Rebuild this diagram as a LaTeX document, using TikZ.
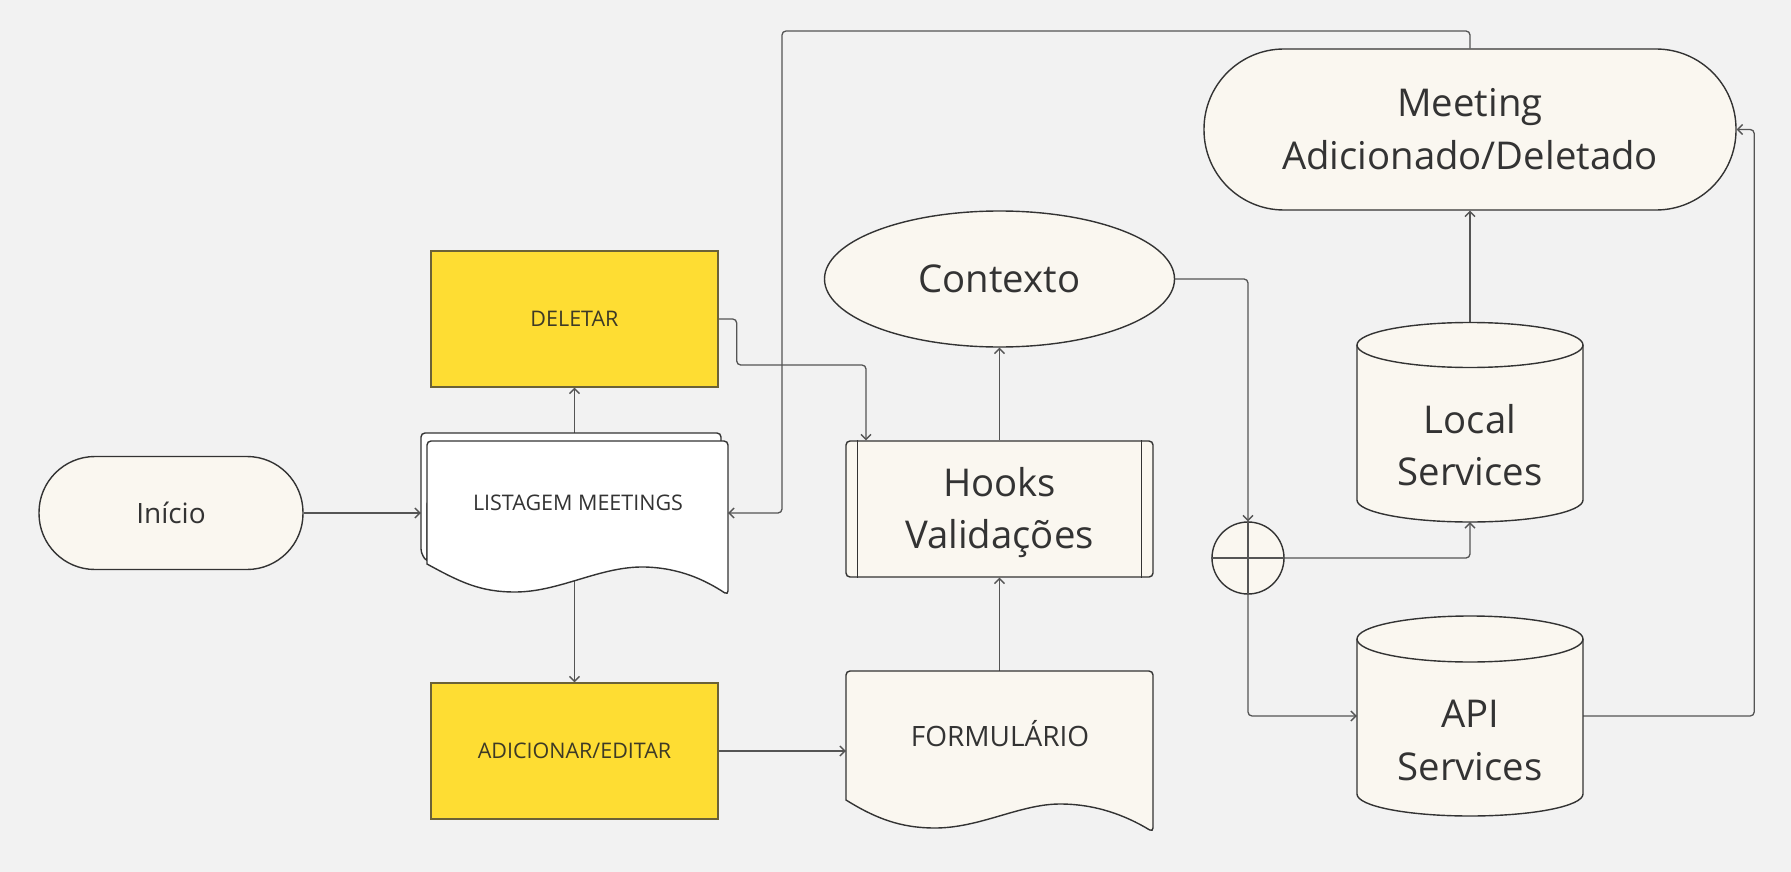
\documentclass[tikz,border=0pt]{standalone}
\usepackage{fontspec}
\setmainfont{Open Sans}
\usetikzlibrary{arrows.meta,shapes.geometric,backgrounds}
\definecolor{bg}{HTML}{F2F2F2}
\definecolor{cream}{HTML}{FAF7F0}
\definecolor{yel}{HTML}{FEDD33}
\definecolor{yelb}{HTML}{6B6237}
\definecolor{ink}{HTML}{333333}
\definecolor{ytext}{HTML}{3D3A26}
\definecolor{edge}{HTML}{555555}
\begin{document}
\begin{tikzpicture}[x=1pt,y=-1pt,
  shp/.style={draw=ink, line width=1.4pt, fill=cream, text=ink, align=center, inner sep=0pt},
  outl/.style={draw=ink, line width=1.4pt},
  big/.style={font=\fontsize{38.3}{52.5}\selectfont, text height=27.3pt, text depth=0pt},
  bigtwo/.style={font=\fontsize{38.3}{52.5}\selectfont, text height=79.8pt, text depth=0pt},
  med/.style={font=\fontsize{28}{36}\selectfont, text height=20pt, text depth=0pt},
  sml/.style={font=\fontsize{21.5}{28}\selectfont, text height=15.4pt, text depth=0pt},
  ybox/.style={draw=yelb, line width=1.4pt, fill=yel, text=ytext, minimum width=287pt, minimum height=136pt, inner sep=0pt, sml},
  ghost/.style={inner sep=0pt, draw=none},
  lbl/.style={text=ink, inner sep=0pt, align=center},
  conn/.style={draw=edge, line width=1.3pt, rounded corners=4pt, -{Straight Barb[length=5pt,width=10pt]}}
]
\useasboundingbox (0,0) rectangle (1791,872);
\begin{pgfonlayer}{background}
\fill[bg] (0,0) rectangle (1791,872);
\end{pgfonlayer}

% ---- nodes ----
\node[shp, med, rounded corners=56pt, minimum width=264pt, minimum height=113pt] (start) at (171,513) {Início};
\node[ybox] (del) at (574.5,319) {DELETAR};
\node[ybox] (adic) at (574.5,751) {ADICIONAR/EDITAR};

% LISTAGEM MEETINGS (multi-document)
\node[ghost, minimum width=307pt, minimum height=160pt] (list) at (574.5,513) {};
\filldraw[outl, fill=white, rounded corners=4pt] (427,562) -- (421,553) -- (421,433) -- (721,433) -- (721,500) -- (427,500) -- cycle;
\filldraw[outl, fill=white] (728,595) .. controls (705,580) and (680,568) .. (645,567) .. controls (600,566) and (560,592) .. (515,592) .. controls (480,592) and (460,582) .. (427,564) [rounded corners=4pt] -- (427,441) -- (728,441) -- cycle;
\node[lbl, sml] (listt) at (578,503) {LISTAGEM MEETINGS};

% Hooks
\node[shp, bigtwo, rounded corners=4pt, minimum width=307pt, minimum height=136pt] (hooks) at (999.5,509) {Hooks\\Validações};
\draw[outl] ([xshift=12pt]hooks.north west) -- ([xshift=12pt]hooks.south west);
\draw[outl] ([xshift=-12pt]hooks.north east) -- ([xshift=-12pt]hooks.south east);

% Contexto
\node[shp, big, ellipse, minimum width=350pt, minimum height=136pt] (ctx) at (999.5,279) {Contexto};

% FORMULARIO (document)
\node[ghost, minimum width=307pt, minimum height=160pt] (form) at (999.5,751) {};
\filldraw[outl, fill=cream] (1153,832) .. controls (1125,815) and (1095,804) .. (1060,804) .. controls (1020,804) and (980,828) .. (935,828) .. controls (900,828) and (875,818) .. (846,800) [rounded corners=4pt] -- (846,671) -- (1153,671) -- cycle;
\node[lbl, med] (formt) at (1000,736) {FORMULÁRIO};

% Meeting
\node[shp, bigtwo, rounded corners=80pt, minimum width=532pt, minimum height=161pt] (meet) at (1470,129.5) {Meeting\\Adicionado/Deletado};

% Local Services (cylinder)
\node[ghost, minimum width=226pt, minimum height=199pt] (local) at (1470,422.5) {};
\filldraw[outl, fill=cream] (1357,345) -- (1357,500) arc[start angle=180, end angle=0, x radius=113, y radius=22] -- (1583,345) arc[start angle=0, end angle=-180, x radius=113, y radius=22.5] -- cycle;
\draw[outl] (1357,345) arc[start angle=180, end angle=0, x radius=113, y radius=22.5];
\node[lbl, bigtwo] (localt) at (1470,446) {Local\\Services};

% API Services (cylinder)
\node[ghost, minimum width=226pt, minimum height=200pt] (api) at (1470,716) {};
\filldraw[outl, fill=cream] (1357,639) -- (1357,794) arc[start angle=180, end angle=0, x radius=113, y radius=22] -- (1583,639) arc[start angle=0, end angle=-180, x radius=113, y radius=23] -- cycle;
\draw[outl] (1357,639) arc[start angle=180, end angle=0, x radius=113, y radius=23];
\node[lbl, bigtwo] (apit) at (1470,740.5) {API\\Services};

% junction
\node[shp, circle, minimum size=72pt] (sum) at (1248,558) {};
\draw[edge, line width=1.3pt] (sum.north) -- (sum.south) (sum.west) -- (sum.east);

% ---- connectors ----
\coordinate (dh) at (866,365);
\coordinate (loop) at (782,31);
\begin{pgfonlayer}{background}
\draw[conn] (start.east) -- (list.west);
\draw[conn] (list.north) -- (del.south);
\draw[conn] (list.center) -- (adic.north);
\draw[conn] (del.east) -- ++(18,0) |- (dh) -- (dh |- hooks.north);
\draw[conn] (adic.east) -- (form.west);
\draw[conn] (form.north) -- (hooks.south);
\draw[conn] (hooks.north) -- (ctx.south);
\draw[conn] (ctx.east) -| (sum.north);
\draw[conn] (sum.east) -| (local.south);
\draw[conn] (sum.south) |- (api.west);
\draw[conn] (local.north) -- (meet.south);
\draw[conn] (api.east) -- ++(171,0) |- (meet.east);
\draw[conn] (meet.north) |- (loop) |- (list.east);
\end{pgfonlayer}
\end{tikzpicture}
\end{document}
